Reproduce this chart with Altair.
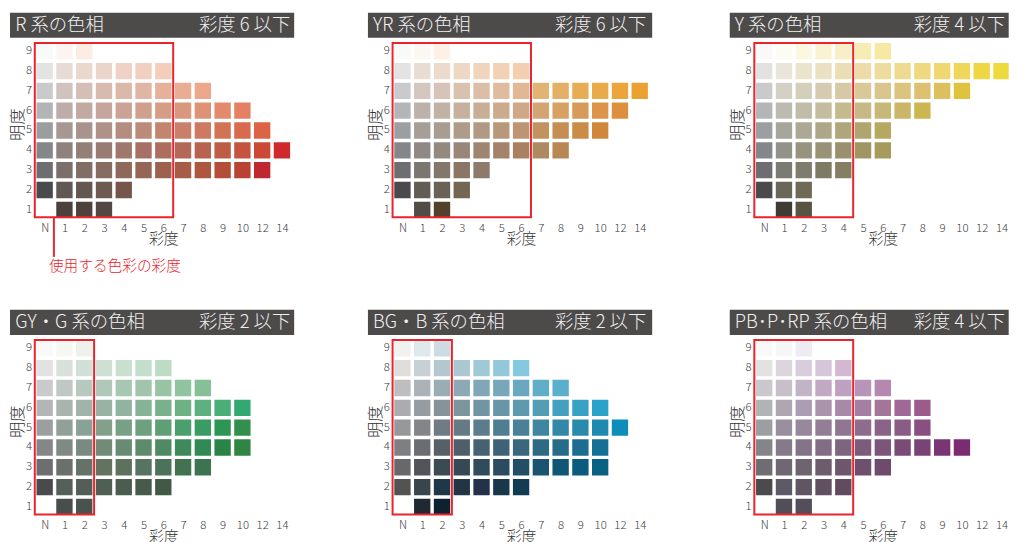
import json
import altair as alt
import pandas as pd

FONT = "Noto Sans CJK JP"
RED = "#e9242d"
HEADER_BG = "#4d4a4a"

# ---------------- data ----------------
CHROMA_LABELS = ["N", "1", "2", "3", "4", "5", "6", "7", "8", "9", "10", "12", "14"]
VALUES = [9, 8, 7, 6, 5, 4, 3, 2, 1]

TITLES = ["R 系の色相", "YR 系の色相", "Y 系の色相",
          "GY・G 系の色相", "BG・B 系の色相", "PB･P･RP 系の色相"]
LIMIT_TEXT = ["彩度 6 以下", "彩度 6 以下", "彩度 4 以下",
              "彩度 2 以下", "彩度 2 以下", "彩度 4 以下"]
LIMIT_INDEX = [6, 6, 4, 2, 2, 4]          # last chroma column inside the red frame
ANNOTATION = "使用する色彩の彩度"
X_TITLE = "彩度"
Y_TITLE = "明度"

# rows from value 9 down to value 1; value 1 starts at chroma 1, others at N
R_ROWS = [
    ["#f9f9f9", "#fbf4f0", "#fcece3"],
    ["#e3e3e3", "#e8dbd5", "#ead8cf", "#ebd5ca", "#eed2c5", "#f2d0c1", "#f5cdbb"],
    ["#cacacc", "#d2c2be", "#d4bfb6", "#d8bbaf", "#dcb8a9", "#e1b5a3", "#e5b19c", "#e9ad93", "#eca88b"],
    ["#b2b4b6", "#bdaca8", "#c0aaa1", "#c6a69c", "#cba395", "#d0a08d", "#d59c86", "#d9977d", "#de9276", "#e28a6c", "#e58064"],
    ["#9b9ea1", "#a69793", "#a9948d", "#b09187", "#b48d81", "#bc8a79", "#c28670", "#c8806a", "#cd7a60", "#d37356", "#d86b4e", "#dc6346"],
    ["#85868a", "#8f817e", "#937e78", "#9a7b72", "#a0776b", "#a67164", "#ad6e5f", "#b36958", "#b8634f", "#bf5c46", "#c6533f", "#cc4837", "#d0292b"],
    ["#6e6e72", "#7b6e6b", "#806d66", "#876c62", "#8e685b", "#956556", "#9d624f", "#a65c46", "#ad573f", "#b54e39", "#bb4232", "#c0282f"],
    ["#4a4a4c", "#5f5855", "#645751", "#6d5b52", "#76554a"],
    ["#4b403c", "#4c413c", "#524843"],
]
YR_ROWS = [
    ["#f9f9f9", "#fdf7f1", "#fdf1e6"],
    ["#e3e3e3", "#e9ddd3", "#ecdbcd", "#eed8c5", "#f0d5be", "#f2d1b6", "#f3ceaf"],
    ["#cacacc", "#d3c7bf", "#d6c4b8", "#d9c1b0", "#dcbea8", "#dfbb9f", "#e1b794", "#e2b473", "#e4b066", "#e6ad55", "#e9aa49", "#eba53b", "#eba131"],
    ["#b3b5b7", "#bdb2ab", "#c1b2a5", "#c6b09e", "#c9ad97", "#ccaa8e", "#d0a887", "#d3a572", "#d6a162", "#d79a5b", "#db9449", "#de8f3d"],
    ["#9c9fa2", "#a69e97", "#a99d92", "#af9b8a", "#b19984", "#b8987a", "#bd9572", "#c2935f", "#c58e52", "#cb8c47", "#d0873b"],
    ["#85868a", "#8f8884", "#94897f", "#9a8678", "#9d8571", "#a5836a", "#a98161", "#ae8a60", "#b98754"],
    ["#6e6e72", "#7c7671", "#83766b", "#8a7566", "#8e7a6b"],
    ["#4a4a4c", "#625c55", "#6b6257", "#746653"],
    ["#524c47", "#53402a"],
]
Y_ROWS = [
    ["#f9f9f9", "#fcfcf2", "#fbf8e2", "#f9f3d4", "#f8efc6", "#f6edb5", "#f5e9a3"],
    ["#e2e2e2", "#e9e5d9", "#eae4cd", "#ebe1c2", "#ebdeb5", "#eddcaa", "#eedb9e", "#eedb90", "#eed980", "#efd870", "#f0d65a", "#efd645", "#efda3d"],
    ["#cacacc", "#d4d1c4", "#d4cfbb", "#d6cbb0", "#d7c9a5", "#d9c898", "#d9c68c", "#dbc47e", "#dcc270", "#ddc05e", "#dfc23d"],
    ["#b3b5b7", "#bdbbb0", "#c0bca7", "#c3bc9e", "#c5b98e", "#c7b985", "#c8b878", "#cab569", "#ccb650"],
    ["#9c9fa2", "#a7a69d", "#aba993", "#ada788", "#afa67c", "#b0a56e", "#b6a860"],
    ["#85868a", "#929289", "#96947f", "#989276", "#9b906d", "#a19563", "#a69a5c"],
    ["#6e6e72", "#7a7b73", "#7e7c6c", "#7e7b64", "#857e63"],
    ["#4a4a4c", "#696858", "#6e6a55"],
    ["#3f3a33", "#585444"],
]
GY_ROWS = [
    ["#f9f9f9", "#f6f7f1", "#eef2ea"],
    ["#e2e2e2", "#d7e0d9", "#d1e0d6", "#cde0d3", "#c9e0d0", "#c3dfcc", "#bddcc4"],
    ["#cacacc", "#c0c8c5", "#b7c8bf", "#afc8b9", "#a8c7b2", "#a0c5ab", "#98c4a6", "#90c3a0", "#85c096"],
    ["#b3b5b7", "#a8b4ae", "#a2b4aa", "#98b3a3", "#91b39f", "#86b296", "#79b18c", "#6db284", "#5eb07e", "#4bae78", "#33a870"],
    ["#9c9fa2", "#91a098", "#8aa195", "#83a08d", "#78a087", "#6ca07f", "#5f9f75", "#4b9f6c", "#3a9c62", "#2e9655", "#338f4e"],
    ["#85868a", "#7f8a84", "#798a80", "#718b78", "#688b73", "#5e8b6d", "#4f8a65", "#3f8a5d", "#318a55", "#2a8347", "#318542"],
    ["#6e6e72", "#6b706d", "#657267", "#627360", "#5d725e", "#577361", "#4c725a", "#42724f", "#3c7450"],
    ["#4a4a4c", "#55605b", "#535e58", "#4f5f54", "#4b5d50", "#475a4c", "#425a45"],
    ["#474e4b", "#48534d"],
]
BG_ROWS = [
    ["#f0f2ef", "#dfe8ea", "#cddbe3"],
    ["#dfdedd", "#c7d1d5", "#b4c6ce", "#abc8d2", "#a0c9d6", "#93c8da", "#84c9e0"],
    ["#bebdc0", "#abb3b8", "#9aadb5", "#8ca9b5", "#7fa7b7", "#76a7ba", "#6aa8c1", "#61aec8", "#5aafcd"],
    ["#acacae", "#979ca2", "#86949a", "#7d959c", "#7195a2", "#6797a6", "#5f99ae", "#539db5", "#45a0c0", "#37a2c4", "#2aa2c9"],
    ["#979899", "#838588", "#6f7b85", "#657a85", "#5a7c8c", "#4f7e93", "#4b8198", "#3f86a0", "#3388a8", "#2a8aab", "#1e8aaf", "#0d8db9"],
    ["#7d7f82", "#6a6d72", "#575f67", "#4f5f69", "#466171", "#3e6377", "#3a667e", "#2f6a85", "#266b8a", "#1d6d90", "#166f95"],
    ["#68676a", "#51555b", "#3c4a53", "#344954", "#2f4b5c", "#2b4c60", "#224f66", "#1b5470", "#105777", "#0b5b7e", "#0a6283"],
    ["#525352", "#3a444b", "#1f3848", "#223544", "#243249", "#183749", "#113c51"],
    ["#202932", "#0d222f"],
]
PB_ROWS = [
    ["#f8f9f8", "#f6f6f7", "#efebf3"],
    ["#e2e2e2", "#ddd5de", "#d8ccdd", "#d5c6da", "#d3b8d2"],
    ["#c9c9cd", "#c7bfc9", "#c2b4c7", "#c1a9c4", "#bea0c0", "#b994b9", "#b688b1"],
    ["#b2b3b5", "#b0a6b3", "#ad9db2", "#ab93ac", "#a88aa8", "#a57fa1", "#a37599", "#a06896", "#9c5b8c"],
    ["#9c9ea1", "#9a8f9e", "#98889b", "#947e96", "#917692", "#8e6c8c", "#8c6388", "#8a5b85", "#8a4f80"],
    ["#848589", "#85798a", "#847487", "#826d84", "#7f6480", "#7d5b7c", "#7d547a", "#7a4b77", "#7a4375", "#7a3575", "#7c2a72"],
    ["#6e6e72", "#6f6773", "#6e646f", "#6d5c6c", "#6e566c", "#6e4f6c", "#6e4b6b"],
    ["#4b4b4e", "#5d5966", "#605663", "#61505f", "#634b5f"],
    ["#524e57", "#544d5a"],
]
PANEL_ROWS = [R_ROWS, YR_ROWS, Y_ROWS, GY_ROWS, BG_ROWS, PB_ROWS]

# ---------------- layout (pixels / data-space) ----------------
PX_X = 19.95            # pixels per chroma column
PX_Y = 20.0             # pixels per value row
X0 = -35.0 / PX_X       # left edge of each panel (header start)
Y_MIN, Y_MAX = 0.55, 10.96
PANEL_H = (Y_MAX - Y_MIN) * PX_Y
WIDTHS = [287, 290.3, 281.7]
HEADER_Y, HEADER_Y2 = 9.675, 10.96
HEADER_X2 = [12.63, 12.63, 13.2]
TITLE_X = -1.49
RIGHT_TEXT_X = [12.42, 12.33, 12.18]
FRAME_Y, FRAME_Y2 = 0.62, 9.42


def cells_table(rows):
    recs = []
    for v, row in zip(VALUES, rows):
        start = 1 if v == 1 else 0
        for j, c in enumerate(row):
            recs.append({"x": start + j, "y": v, "c": c})
    return pd.DataFrame(recs)


label_expr = json.dumps(CHROMA_LABELS) + "[datum.value]"


def panel(k):
    col = k % 3
    w = WIDTHS[col]
    xs = alt.Scale(domain=[X0, X0 + w / PX_X], nice=False, zero=False)
    ys = alt.Scale(domain=[Y_MIN, Y_MAX], nice=False, zero=False)
    x_axis = alt.Axis(
        values=list(range(len(CHROMA_LABELS))), labelExpr=label_expr,
        ticks=False, domain=False, grid=False, labelPadding=3.5,
        labelFontSize=11.5, labelColor="#3c3c3c", labelFont=FONT, labelFontWeight=300,
        labelOverlap=False, labelFlush=False,
        title=X_TITLE, titleFontSize=15, titleFontWeight=300,
        titleColor="#333333", titleFont=FONT,
        titleX=(6 - X0) * PX_X, titleY=20.5, titleAlign="center", titleBaseline="middle")

    def X():
        return alt.X("x:Q", scale=xs, axis=x_axis)

    def Y():
        return alt.Y("y:Q", scale=ys, axis=None)

    ymid = (HEADER_Y + HEADER_Y2) / 2

    header = alt.Chart(pd.DataFrame({"x": [X0], "x2": [HEADER_X2[col]],
                                     "y": [HEADER_Y], "y2": [HEADER_Y2]})).mark_rect(
        color=HEADER_BG, clip=True).encode(x=X(), x2="x2:Q", y=Y(), y2="y2:Q")

    title_l = alt.Chart(pd.DataFrame({"x": [TITLE_X], "y": [ymid], "t": [TITLES[k]]})).mark_text(
        align="left", baseline="middle", fontSize=18.5, fontWeight=300, color="#f0f0f0", font=FONT).encode(
        x=X(), y=Y(), text="t:N")
    title_r = alt.Chart(pd.DataFrame({"x": [RIGHT_TEXT_X[col]], "y": [ymid], "t": [LIMIT_TEXT[k]]})).mark_text(
        align="right", baseline="middle", fontSize=18.5, fontWeight=300, color="#f0f0f0", font=FONT).encode(
        x=X(), y=Y(), text="t:N")

    cells = alt.Chart(cells_table(PANEL_ROWS[k])).mark_square(
        size=272, opacity=1, filled=True, clip=True).encode(
        x=X(), y=Y(), color=alt.Color("c:N", scale=None))

    frame = alt.Chart(pd.DataFrame({"x": [-0.5], "x2": [LIMIT_INDEX[k] + 0.5],
                                    "y": [FRAME_Y], "y2": [FRAME_Y2]})).mark_rect(
        fillOpacity=0, stroke=RED, strokeWidth=2).encode(
        x=X(), x2="x2:Q", y=Y(), y2="y2:Q")

    ylabels = alt.Chart(pd.DataFrame({"x": [-0.64] * len(VALUES), "y": VALUES,
                                      "t": [str(v) for v in VALUES]})).mark_text(
        align="right", baseline="middle", fontSize=11.5, fontWeight=300, color="#3c3c3c", font=FONT).encode(
        x=X(), y=Y(), text="t:N")

    ytitle = alt.Chart(pd.DataFrame({"x": [-1.33], "y": [5.3], "t": [Y_TITLE]})).mark_text(
        angle=270, align="center", baseline="middle", fontSize=16.5, fontWeight=300,
        color="#333333", font=FONT).encode(
        x=X(), y=Y(), text="t:N")

    layers = [header, title_l, title_r, cells, frame, ylabels, ytitle]

    if k == 0:
        rule = alt.Chart(pd.DataFrame({"x": [0.466], "y": [FRAME_Y], "y2": [-1.375]})).mark_rule(
            color=RED, strokeWidth=2).encode(x=X(), y=Y(), y2="y2:Q")
        note = alt.Chart(pd.DataFrame({"x": [0.216], "y": [-1.87], "t": [ANNOTATION]})).mark_text(
            align="left", baseline="middle", fontSize=14.8, fontWeight=300, color=RED, font=FONT).encode(
            x=X(), y=Y(), text="t:N")
        layers += [rule, note]

    return alt.layer(*layers).properties(width=w, height=PANEL_H)


chart = alt.concat(
    *[panel(k) for k in range(6)],
    columns=3,
    spacing={"row": 309 - 10 - PANEL_H, "column": 74},
    bounds="flush",
    align="each",
).properties(
    padding={"left": 2, "top": 2, "right": 0, "bottom": 0}
).configure(font=FONT).configure_view(stroke=None)

chart.save("out.html", embed_options={"renderer": "svg", "actions": False})
